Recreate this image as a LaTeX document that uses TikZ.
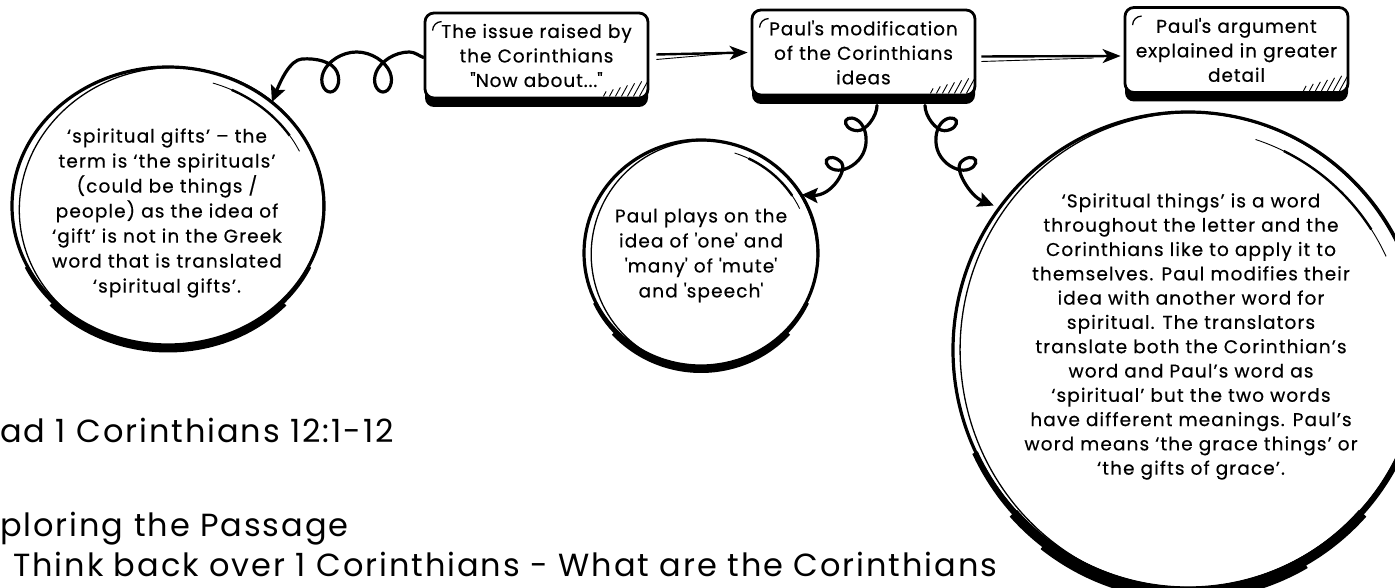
\documentclass[tikz,border=0pt]{standalone}
\usepackage{fontspec}
\setmainfont{Poppins}
\newfontfamily\wideA{Poppins}[LetterSpace=5,FakeBold=0.5]
\newfontfamily\wideB{Poppins}[LetterSpace=6,FakeBold=0.4]
\newfontfamily\wideC{Poppins}[LetterSpace=6]
\usetikzlibrary{shapes.geometric,arrows.meta,shadows,calc}
\tikzset{
  boxnode/.style={draw, line width=2.8pt, fill=white, rounded corners=9pt,
    minimum width=223pt, minimum height=85pt, text width=218pt, align=center,
    inner sep=0pt, font=\wideA\fontsize{18.5}{24.5}\selectfont,
    drop shadow={shadow xshift=0pt, shadow yshift=-9pt, fill=black, opacity=1}},
  circnode/.style={ellipse, draw=none, inner sep=0pt},
  circtext/.style={align=center, inner sep=0pt, font=\wideB\fontsize{18.5}{25}\selectfont},
  bottomtext/.style={anchor=base west, inner sep=0pt, font=\wideC\fontsize{32}{36}\selectfont},
  straightarrow/.style={line width=2.4pt, -{Stealth[length=18pt,width=14pt,inset=5pt]}},
  thinline/.style={line width=0.9pt},
  curly/.style={line width=3.2pt, line cap=round, -{Stealth[length=16pt,width=15pt,inset=3pt]}},
}
\newcommand\skcirc[5]{%
  \draw[line width=3.2pt] (#1.center) ellipse [x radius=#2, y radius=#3];
  \draw[line width=1.3pt, rotate around={6:(#1.center)}] ([shift={(3,-2)}]#1.center) ellipse [x radius=#2-4, y radius=#3+1];
  \draw[line width=#4] ([yshift=-2]#1.center) ++(205:#2 and #3) arc[start angle=205, end angle=335, x radius=#2, y radius=#3];
  \draw[line width=#5] ([yshift=-4]#1.center) ++(222:#2 and #3) arc[start angle=222, end angle=318, x radius=#2, y radius=#3];
  \draw[line width=0.9pt] (#1.center) ++(72:{0.93*#2} and {0.93*#3}) arc[start angle=72, end angle=25, x radius={0.93*#2}, y radius={0.93*#3}];
  \draw[line width=2.4pt] (#1.center) ++(64:{0.93*#2} and {0.93*#3}) arc[start angle=64, end angle=33, x radius={0.93*#2}, y radius={0.93*#3}];
}
\begin{document}
\begin{tikzpicture}[x=1pt,y=1pt]
\useasboundingbox (0,0) rectangle (1395,588);
\clip (0,0) rectangle (1395,588);

% boxes
\node[boxnode] (b1) at (536.5,532.5) {The issue raised by\\the Corinthians\\\textquotedbl Now about...\textquotedbl};
\node[boxnode] (b2) at (863.5,535.5) {Paul\textquotesingle s modification\\of the Corinthians\\ideas};
\node[boxnode] (b3) at (1236.5,538) {Paul\textquotesingle s argument\\explained in greater\\detail};

\foreach \b in {b1,b2,b3} {
  \foreach \i in {0,...,6} {
    \draw[thinline] ([shift={({-10-6*\i},3)}]\b.south east) -- ++({0.55*(17-2*\i)},{17-2*\i});
  }
  \draw[line width=1.3pt] ([shift={(9,-19)}]\b.north west) to[out=90,in=180] ([shift={(18,-10)}]\b.north west);
}

% straight arrows
\draw[straightarrow] ([shift={(7,1)}]b1.east) -- ([shift={(-3,0)}]b2.west);
\draw[thinline] ([shift={(7,-4)}]b1.east) -- ([shift={(-25,-1)}]b2.west);
\draw[straightarrow] ([shift={(5,-4)}]b2.east) -- ([shift={(-3,-6)}]b3.west);
\draw[thinline] ([shift={(5,-9)}]b2.east) -- ([shift={(-30,-8)}]b3.west);

% circles
\node[circnode, minimum width=312pt, minimum height=278pt] (c1) at (168,382) {};
\node[circnode, minimum width=234pt, minimum height=226pt] (c2) at (701,335) {};
\node[circnode, minimum width=470pt, minimum height=476pt] (c3) at (1188,238) {};
\skcirc{c1}{156}{139}{4pt}{7pt}
\skcirc{c2}{117}{113}{4pt}{6pt}
\skcirc{c3}{235}{238}{6pt}{10pt}
\draw[line width=9pt] ([yshift=-8]c3.center) ++(232:235 and 238) arc[start angle=232, end angle=300, x radius=235, y radius=238];

% circle texts
\node[circtext] (t1) at (167,375) {‘spiritual gifts’ – the\\term is ‘the spirituals’\\(could be things /\\people) as the idea of\\‘gift’ is not in the Greek\\word that is translated\\‘spiritual gifts’.};
\node[circtext] (t2) at (701,332.5) {Paul plays on the\\idea of \textquotesingle one\textquotesingle{} and\\\textquotesingle many\textquotesingle{} of \textquotesingle mute\textquotesingle\\and \textquotesingle speech\textquotesingle};
\node[circtext, font=\wideB\fontsize{18.5}{24.3}\selectfont] (t3) at (1191,251.5) {‘Spiritual things’ is a word\\throughout the letter and the\\Corinthians like to apply it to\\themselves. Paul modifies their\\idea with another word for\\spiritual. The translators\\translate both the Corinthian’s\\word and Paul’s word as\\‘spiritual’ but the two words\\have different meanings. Paul’s\\word means ‘the grace things’ or\\‘the gifts of grace’.};

% curly connectors (looped)
\draw[curly] ([yshift=-2]b1.west)
  .. controls (419,532) and (415,536) .. (409.41,536)
  .. controls (394.54,536) and (380.62,526.47) .. (376.22,516)
  .. controls (371.82,505.53) and (376.95,496) .. (383.02,496)
  .. controls (389.09,496) and (394.23,505.53) .. (389.83,516)
  .. controls (385.43,526.47) and (371.50,536) .. (356.63,536)
  .. controls (341.76,536) and (327.84,526.47) .. (323.44,516)
  .. controls (319.04,505.53) and (324.17,496) .. (330.24,496)
  .. controls (336.31,496) and (341.45,505.53) .. (337.05,516)
  .. controls (332.65,526.47) and (316,530) .. (302,529)
  .. controls (290,528) and (281,508) .. (c1.45);
\draw[curly] ([shift={(13.5,-9)}]b2.south)
  .. controls (877,472) and (866.2,457.15) .. (857.54,457.31)
  .. controls (848.88,457.47) and (843.99,463.73) .. (845.83,467.49)
  .. controls (847.67,471.25) and (855.61,471.23) .. (861.06,464.49)
  .. controls (866.51,457.75) and (868.18,444.90) .. (863.12,434.56)
  .. controls (858.06,424.22) and (846.89,417.64) .. (838.23,417.80)
  .. controls (829.57,417.96) and (824.68,424.24) .. (826.52,428.0)
  .. controls (828.36,431.76) and (836.30,431.74) .. (841.75,425.0)
  .. controls (847.20,418.26) and (832,392) .. (c2.30);
\draw[curly, shorten >=6pt] ([shift={(61.5,-9)}]b2.south)
  .. controls (925,472) and (935.8,457.15) .. (944.46,457.31)
  .. controls (953.12,457.47) and (958.01,463.73) .. (956.17,467.49)
  .. controls (954.33,471.25) and (946.39,471.23) .. (940.94,464.49)
  .. controls (935.49,457.75) and (933.82,444.90) .. (938.88,434.56)
  .. controls (943.94,424.22) and (955.11,417.64) .. (963.77,417.80)
  .. controls (972.43,417.96) and (977.32,424.24) .. (975.48,428.0)
  .. controls (973.64,431.76) and (965.70,431.74) .. (960.25,425.0)
  .. controls (954.80,418.26) and (970,392) .. (c3.143);

% bottom text
\node[bottomtext] (r1) at (0,145) {ad 1 Corinthians 12:1-12};
\node[bottomtext] (r2) at (0,51) {ploring the Passage};
\node[bottomtext] (r3) at (13,11) {Think back over 1 Corinthians - What are the Corinthians};
\end{tikzpicture}
\end{document}
